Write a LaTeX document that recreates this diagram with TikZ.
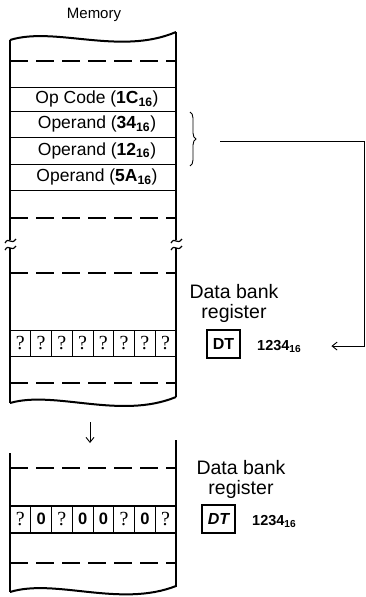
\documentclass[tikz,border=0pt]{standalone}
\usepackage{fontspec}
\setmainfont{Liberation Sans}
\newfontfamily\qmarkfont{Liberation Serif}
\usetikzlibrary{arrows.meta, decorations.pathreplacing, positioning}

\newcommand{\hexv}[1]{\textbf{#1}\textsubscript{\bfseries 16}}

\begin{document}
\begin{tikzpicture}[
    x=1pt, y=-1pt,
    wall/.style = {line width=2pt},
    rowline/.style = {line width=0.9pt},
    dashline/.style = {line width=1.1pt, dash pattern=on 18pt off 8pt},
    breakmark/.style = {line width=1.2pt},
    rowtext/.style = {font=\fontsize{17.5}{20}\selectfont, inner sep=0pt},
    cell/.style = {rectangle, draw, line width=0.9pt, minimum width=20.75pt, minimum height=26pt, inner sep=0pt, outer sep=0pt},
    qmark/.style = {font=\qmarkfont\fontsize{20}{20}\selectfont},
    zero/.style = {font=\fontsize{16.5}{16}\selectfont\bfseries},
    regtext/.style = {align=center, font=\fontsize{19.5}{20}\selectfont, inner sep=0pt, anchor=north},
    regbox/.style = {rectangle, draw, line width=1.2pt, minimum width=33pt, minimum height=28pt, inner sep=0pt, font=\fontsize{16}{16}\selectfont\bfseries},
    hexval/.style = {font=\fontsize{14.5}{15}\selectfont, inner sep=0pt, anchor=base west},
    arrow/.style = {draw, line width=0.9pt, -{Straight Barb[length=5pt,width=8pt]}}
]
\useasboundingbox (0,0) rectangle (366,597);

% Memory, before
\node (memlabel) [font=\fontsize{15}{15}\selectfont] at (94,15) {Memory};

\draw [wall] (10,40) .. controls (55,26) and (120,56) .. (176,32);
\draw [wall] (10,40) -- (10,240);
\draw [wall] (10,248) -- (10,403);
\draw [wall] (176,32) -- (176,240);
\draw [wall] (176,248) -- (176,397);
\draw [wall] (10,403) .. controls (55,390) and (120,420) .. (176,397);

\foreach \x in {10,176} {
    \draw [breakmark] (\x-5,243) .. controls (\x-1,236) and (\x+1,246) .. (\x+6,239);
    \draw [breakmark] (\x-5,250) .. controls (\x-1,243) and (\x+1,253) .. (\x+6,246);
}

\foreach \y in {61,218,273,383}
    \draw [dashline] (10,\y) -- (176,\y);
\foreach \y in {87,111,137,164,190}
    \draw [rowline] (10,\y) -- (176,\y);

\node (opcode) [rowtext] at (97,99) {Op Code (\hexv{1C})};
\node (oper1) [rowtext] at (97,124) {Operand (\hexv{34})};
\node (oper2) [rowtext] at (97,150.5) {Operand (\hexv{12})};
\node (oper3) [rowtext] at (97,177) {Operand (\hexv{5A})};

\foreach \i in {1,...,8}
    \node (a\i) [cell, qmark] at (10+20.75*\i-10.375,343) {?};

% brace and connector
\draw [line width=0.9pt, decorate, decoration={brace, amplitude=6pt}] (190,112) -- (190,166);
\coordinate (brc) at (220,141);
\coordinate (turn) at (364,141);

\node (reg1) [regtext] at (234,284) {Data bank\\register};
\node (dt1) [regbox] at (223.5,344) {DT};
\node (val1) [hexval] at (257,350) {\hexv{1234}};

\draw [arrow, shorten >=30pt] (brc) -- (turn) |- (val1.east);

% step arrow
\coordinate (stepa) at (90,422);
\coordinate (stepb) at (90,443);
\draw [arrow] (stepa) -- (stepb);

% Memory, after
\draw [wall] (10,453) -- (10,592);
\draw [wall] (176,440) -- (176,587);
\draw [wall] (10,592) .. controls (55,578) and (120,608) .. (176,586);

\foreach \y in {468,563}
    \draw [dashline] (10,\y) -- (176,\y);
\foreach \y in {505,533}
    \draw [rowline] (10,\y) -- (176,\y);

\foreach \q [count=\i] in {?,0,?,0,0,?,0,?} {
    \if\q0
        \node (b\i) [cell, zero] at (10+20.75*\i-10.375,519) {0};
    \else
        \node (b\i) [cell, qmark] at (10+20.75*\i-10.375,519) {?};
    \fi
}

\node (reg2) [regtext] at (241,460) {Data bank\\register};
\node (dt2) [regbox, font=\fontsize{16}{16}\selectfont\bfseries\itshape] at (218.5,519) {DT};
\node (val2) [hexval] at (252,525) {\hexv{1234}};

\end{tikzpicture}
\end{document}
